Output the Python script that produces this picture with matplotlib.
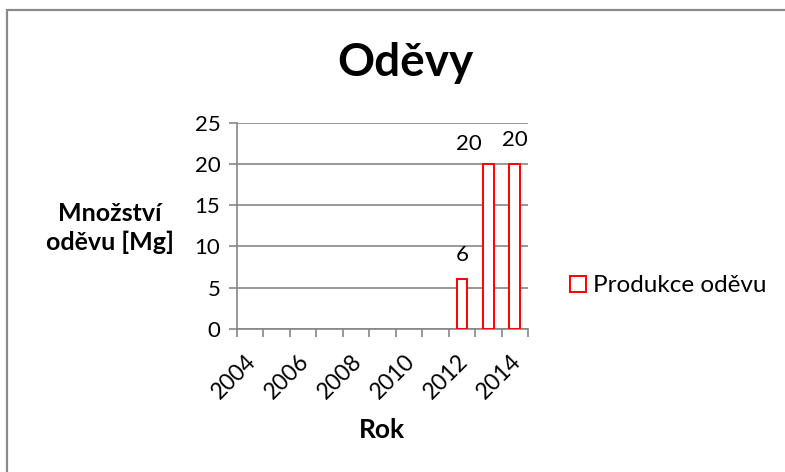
import matplotlib
matplotlib.use("Agg")
import matplotlib.pyplot as plt
from matplotlib.patches import Patch, Rectangle
from matplotlib.transforms import ScaledTranslation

plt.rcParams['font.family'] = ['Lato', 'DejaVu Sans']

years = [2004, 2005, 2006, 2007, 2008, 2009, 2010, 2011, 2012, 2013, 2014]
produkce = [None, None, None, None, None, None, None, None, 6, 20, 20]
y_ticks = [0, 5, 10, 15, 20, 25]

red = '#ff0000'
grid_col = '#868686'

fig = plt.figure(figsize=(7.85, 4.72), dpi=100)
ax = fig.add_axes([0.3019, 0.3036, 0.3707, 0.4364])

# outer chart border (only top/left visible in the reference)
fig.patches.append(Rectangle((7 / 785, -0.1), 1.2, 1 - 10 / 472 + 0.1,
                             transform=fig.transFigure, fill=False,
                             edgecolor='#8a8a8a', lw=1.6))

xs = [i for i, v in enumerate(produkce) if v is not None]
vals = [v for v in produkce if v is not None]
ax.bar(xs, vals, width=0.4, facecolor='white', edgecolor=red, lw=1.4, zorder=3)

# Excel nudges a label left when two neighbouring labels would collide
for i, (x, v) in enumerate(zip(xs, vals)):
    dx, dy = 0, 10
    if i + 1 < len(vals) and vals[i + 1] == v and xs[i + 1] == x + 1:
        dx, dy = -14, 7
    ax.annotate(str(v), (x, v), xytext=(dx, dy), textcoords='offset points',
                ha='center', va='bottom', fontsize=16)

ax.set_xlim(-0.5, len(years) - 0.5)
ax.set_ylim(0, 25)
ax.set_yticks(y_ticks)
ax.set_yticklabels([str(t) for t in y_ticks], fontsize=16)
ax.yaxis.grid(True, color=grid_col, lw=1.2)
ax.set_axisbelow(True)

ax.set_xticks(range(0, len(years), 2))
ax.set_xticklabels([str(y) for y in years[::2]], rotation=45, ha='right',
                   va='top', rotation_mode='anchor', fontsize=16.5)
ax.set_xticks([i - 0.5 for i in range(len(years) + 1)], minor=True)
ax.tick_params(axis='x', which='major', length=0, pad=16)
ax.tick_params(axis='x', which='minor', length=6, color=grid_col, width=1.2,
               direction='out')
ax.tick_params(axis='y', length=6, color=grid_col, width=1.2, pad=6)
shift = ScaledTranslation(-5 / 100, 0, fig.dpi_scale_trans)
for lab in ax.get_xticklabels():
    lab.set_transform(lab.get_transform() + shift)

for s in ['top', 'right']:
    ax.spines[s].set_visible(False)
for s in ['left', 'bottom']:
    ax.spines[s].set_color(grid_col)
    ax.spines[s].set_linewidth(1.2)

fig.text(405 / 785, 1 - 63 / 472, 'Oděvy', ha='center', va='center',
         fontsize=33, fontweight='bold')
fig.text(110 / 785, 1 - 228 / 472, 'Množství\noděvu [Mg]', ha='center',
         va='center', fontsize=18, fontweight='bold', linespacing=1.3)
fig.text(382 / 785, 1 - 430 / 472, 'Rok', ha='center', va='center',
         fontsize=19, fontweight='bold')

handle = Patch(facecolor='white', edgecolor=red, lw=1.4)
fig.legend([handle], ['Produkce oděvu'], loc='center left',
           bbox_to_anchor=(548 / 785, 1 - 286 / 472), frameon=False,
           fontsize=17.5, handlelength=0.65, handleheight=0.65,
           handletextpad=0.3)

fig.savefig('out.png', dpi=100)
